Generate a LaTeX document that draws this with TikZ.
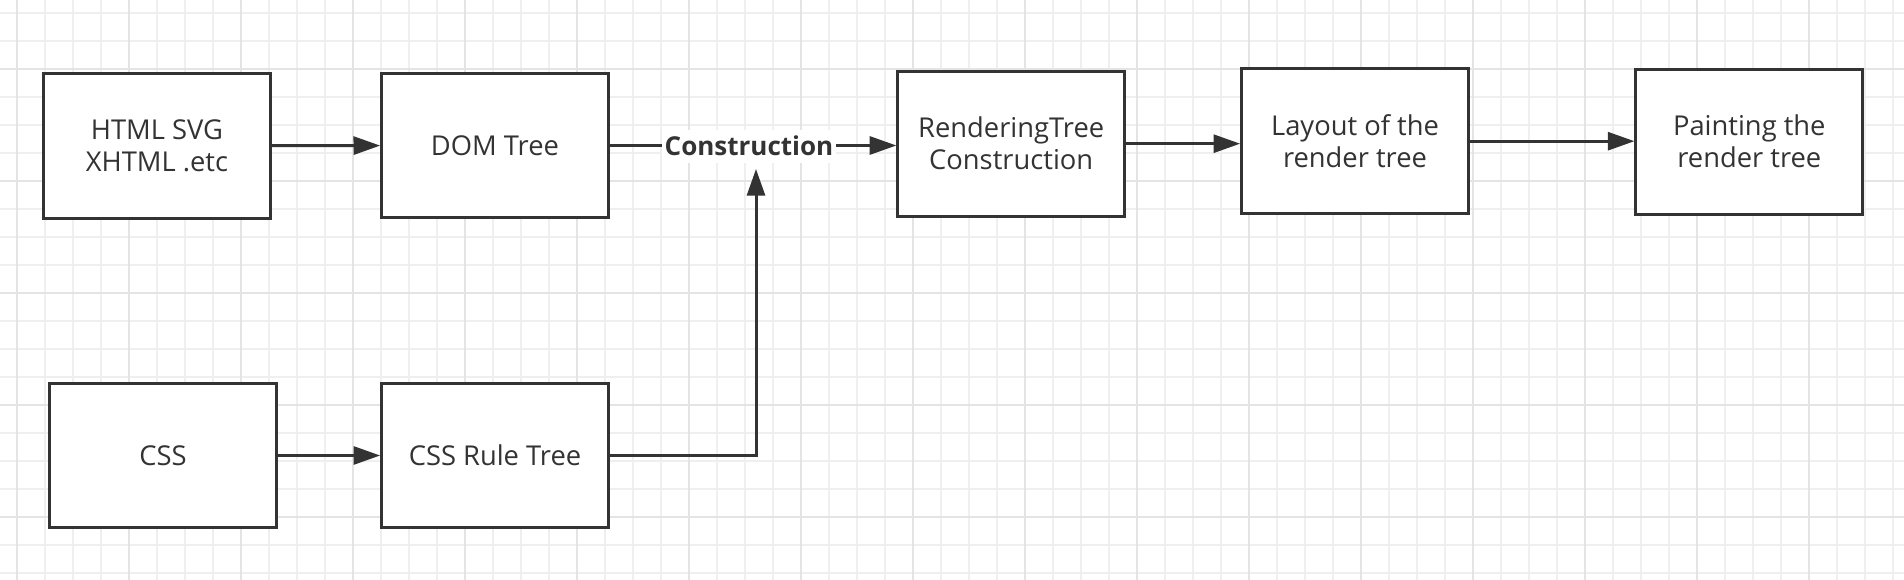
\documentclass[tikz,border=0pt]{standalone}
\usepackage{fontspec}
\setmainfont{Open Sans}
\usetikzlibrary{arrows.meta}
\definecolor{ink}{HTML}{333333}
\definecolor{gridminor}{HTML}{EFEFEF}
\definecolor{gridmajor}{HTML}{E4E4E4}
\tikzset{
  procbox/.style={draw=ink, line width=2.25pt, fill=white, rectangle,
    minimum width=170pt, minimum height=108.5pt, inner sep=0pt,
    align=center, text=ink, font=\fontsize{20.5pt}{24pt}\selectfont},
  arr/.style={draw=ink, line width=2.25pt, -{Triangle[length=20pt,width=13.5pt]}},
  plainline/.style={draw=ink, line width=2.25pt},
  edgelabel/.style={fill=white, text=ink, inner xsep=2pt, inner ysep=5pt,
    font=\bfseries\fontsize{19.5pt}{23pt}\selectfont}
}
\begin{document}
\begin{tikzpicture}[x=0.75pt,y=-0.75pt]
  \useasboundingbox (0,0) rectangle (1904,580);
  \fill[white] (0,0) rectangle (1904,580);
  % grid
  \foreach \k in {0,...,67} {
    \draw[gridminor, line width=1pt] ({17+28*\k},0) -- ({17+28*\k},580);
  }
  \foreach \k in {0,...,20} {
    \draw[gridminor, line width=1pt] (0,{13+28*\k}) -- (1904,{13+28*\k});
  }
  \foreach \k in {0,...,16} {
    \draw[gridmajor, line width=1.4pt] ({17+112*\k},0) -- ({17+112*\k},580);
  }
  \foreach \k in {0,...,4} {
    \draw[gridmajor, line width=1.4pt] (0,{69+112*\k}) -- (1904,{69+112*\k});
  }
  % boxes
  \node[procbox] (html) at (157,145.8) {HTML SVG\\XHTML .etc};
  \node[procbox] (dom) at (495,145.5) {DOM Tree};
  \node[procbox] (css) at (163,455.5) {CSS};
  \node[procbox] (cssrule) at (495,455.5) {CSS Rule Tree};
  \node[procbox] (render) at (1011.2,143.7) {RenderingTree\\Construction};
  \node[procbox] (layout) at (1355,141.2) {Layout of the\\render tree};
  \node[procbox] (paint) at (1749.3,141.7) {Painting the\\render tree};
  % connectors
  \draw[arr] (html) -- (dom);
  \draw[arr] (css) -- (cssrule);
  \draw[arr] (dom.east) -- (dom.east -| render.west);
  \node[edgelabel] (constr) at (749,146.2) {Construction};
  \coordinate (joinpt) at (756,169);
  \draw[arr] (cssrule.east) -| (joinpt);
  \draw[arr] (render.east) -- (render.east -| layout.west);
  \draw[arr] (layout.east) -- (layout.east -| paint.west);
\end{tikzpicture}
\end{document}
